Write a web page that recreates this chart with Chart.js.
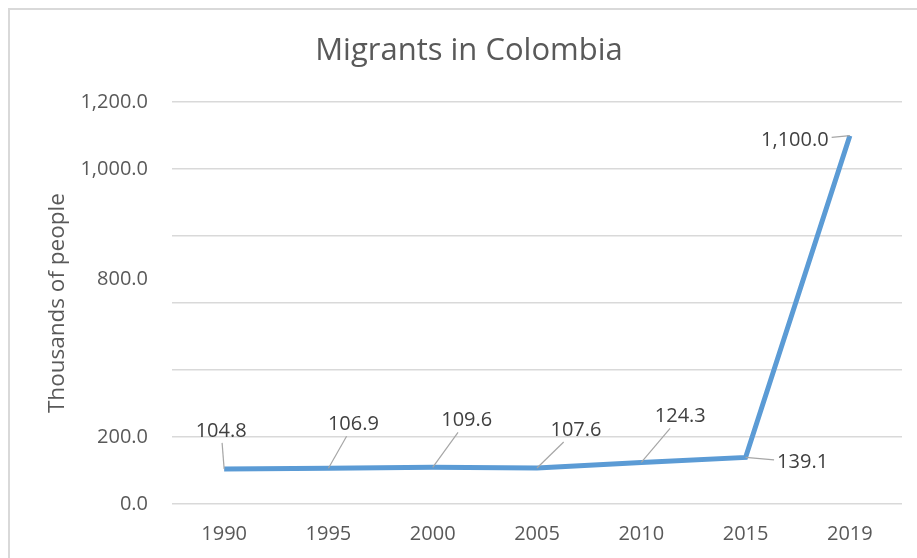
<!DOCTYPE html>
<html>
<head>
<meta charset="utf-8">
<script src="https://cdn.jsdelivr.net/npm/chart.js@4"></script>
<style>
  html, body { margin: 0; padding: 0; background: #fff; overflow: hidden; }
  #frame { position: absolute; left: 8px; top: 8px; width: 1000px; height: 1000px; border: 2px solid #d9d9d9; }
  #wrap { position: absolute; left: 0; top: 0; width: 917px; height: 558px; }
</style>
</head>
<body>
<div id="frame"></div>
<div id="wrap"><canvas id="migrantsChart"></canvas></div>
<script>
// datos del grafico
const years = ['1990', '1995', '2000', '2005', '2010', '2015', '2019'];
const migrants = [104.8, 106.9, 109.6, 107.6, 124.3, 139.1, 1100.0];
const yTicksShown = [0, 200, 1000, 1200];
const strayTick = { text: '800.0', value: 670 };

// donde va cada etiqueta respecto a su punto (px)
const labelOffsets = [[-3, -38], [25, -44], [34, -47], [39, -38], [39, -46], [57, 5], [-55, 5]];

const textColor = '#595959';
const fontFamily = "'Open Sans', sans-serif";

function fmt(v) {
  return v.toLocaleString('en-US', { minimumFractionDigits: 1, maximumFractionDigits: 1 });
}

// etiquetas con linea guia
const leaderLabels = {
  id: 'leaderLabels',
  afterDatasetsDraw(chart) {
    const ctx = chart.ctx;
    const meta = chart.getDatasetMeta(0);
    ctx.save();
    ctx.font = '20px ' + fontFamily;
    ctx.textAlign = 'center';
    ctx.textBaseline = 'middle';
    meta.data.forEach((pt, i) => {
      const txt = fmt(migrants[i]);
      const lx = pt.x + labelOffsets[i][0];
      const ly = pt.y + labelOffsets[i][1];
      const hw = ctx.measureText(txt).width / 2 + 3;
      const hh = 12;
      // recortar la linea contra la caja de la etiqueta
      const dx = pt.x - lx, dy = pt.y - ly;
      const t = Math.min(dx !== 0 ? hw / Math.abs(dx) : Infinity, dy !== 0 ? hh / Math.abs(dy) : Infinity);
      ctx.strokeStyle = '#a6a6a6';
      ctx.lineWidth = 1.2;
      ctx.beginPath();
      ctx.moveTo(lx + dx * t, ly + dy * t);
      ctx.lineTo(pt.x, pt.y);
      ctx.stroke();
      ctx.fillStyle = '#404040';
      ctx.fillText(txt, lx, ly);
    });
    // la etiqueta 800.0 suelta del eje
    const ys = chart.scales.y;
    ctx.fillStyle = textColor;
    ctx.textAlign = 'right';
    ctx.fillText(strayTick.text, ys.right - 24, ys.getPixelForValue(strayTick.value));
    ctx.restore();
  }
};

function loadMigrants() {
  const data = {
    labels: years,
    datasets: [{
      label: 'Migrants',
      data: migrants,
      borderColor: '#5b9bd5',
      backgroundColor: '#5b9bd5',
      borderWidth: 5,
      pointRadius: 0,
      tension: 0,
      borderCapStyle: 'butt',
      borderJoinStyle: 'miter'
    }]
  };

  const config = {
    type: 'line',
    data: data,
    plugins: [leaderLabels],
    options: {
      responsive: true,
      maintainAspectRatio: false,
      animation: false,
      layout: { padding: { left: 36, right: 15, top: 0, bottom: -6 } },
      plugins: {
        legend: { display: false },
        tooltip: { enabled: false },
        title: {
          display: true,
          text: 'Migrants in Colombia',
          color: textColor,
          font: { family: fontFamily, size: 31, weight: 'normal' },
          padding: { top: 33, bottom: 32 }
        }
      },
      scales: {
        x: {
          offset: true,
          grid: { display: false, drawTicks: false },
          border: { display: false },
          ticks: { color: textColor, font: { family: fontFamily, size: 20 }, padding: 18 }
        },
        y: {
          min: 0,
          max: 1200,
          afterFit(scale) { scale.width = 136; },
          grid: { color: '#d9d9d9', lineWidth: 1.5, drawTicks: false },
          border: { display: false },
          ticks: {
            stepSize: 200,
            padding: 24,
            color: textColor,
            font: { family: fontFamily, size: 20 },
            callback: (v) => yTicksShown.includes(v) ? fmt(v) : ''
          },
          title: {
            display: true,
            text: 'Thousands of people',
            color: textColor,
            font: { family: fontFamily, size: 22.5, weight: 'normal' },
            padding: { top: 8, bottom: 0 }
          }
        }
      }
    }
  };

  const migrantsChart = new Chart(document.getElementById('migrantsChart'), config);
}

loadMigrants();
</script>
</body>
</html>
